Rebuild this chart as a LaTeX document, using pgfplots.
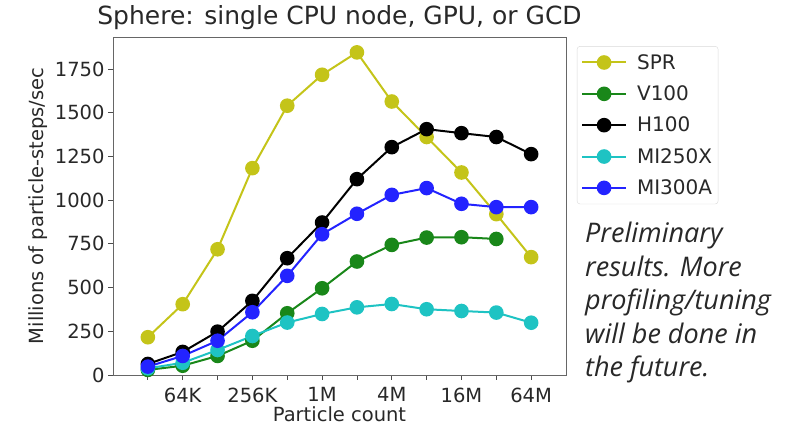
\documentclass[border=0pt]{standalone}
\usepackage{fontspec}
\setmainfont{DejaVu Sans}
\newfontfamily\notefont{Open Sans}
\usepackage{pgfplots}
\pgfplotsset{compat=1.18}
\definecolor{cSPR}{RGB}{196,196,25}
\definecolor{cV100}{RGB}{25,135,25}
\definecolor{cH100}{RGB}{0,0,0}
\definecolor{cMI250}{RGB}{30,195,195}
\definecolor{cMI300}{RGB}{35,35,255}
\definecolor{txt}{RGB}{40,40,40}
\begin{document}
\begin{tikzpicture}
\path[use as bounding box] (0pt,0pt) rectangle (805pt,427pt);
\begin{axis}[
  at={(113pt,52pt)}, anchor=south west,
  scale only axis, width=453pt, height=338pt,
  xmode=log, log basis x={2},
  xmin=16384, xmax=134217728,
  ymin=0, ymax=1933,
  xtick={32768,65536,131072,262144,524288,1048576,2097152,4194304,8388608,16777216,33554432,67108864},
  xticklabels={,64K,,256K,,1M,,4M,,16M,,64M},
  ytick={0,250,500,750,1000,1250,1500,1750},
  tick align=outside, tick pos=left,
  major tick length=5pt,
  axis line style={draw=black!60},
  every tick/.style={black!70, line width=0.8pt},
  tick label style={font=\fontsize{19.5}{21}\selectfont, text=txt},
  xticklabel style={yshift=-4pt},
  /pgf/number format/assume math mode=true,
  /pgf/number format/1000 sep={},
  xlabel={Particle count}, ylabel={Millions of particle-steps/sec},
  label style={font=\fontsize{19.5}{21}\selectfont, text=txt},
  xlabel style={at={(axis description cs:0.5,0)}, anchor=base, yshift=-47pt, inner sep=0pt},
  title={Sphere: single CPU node, GPU, or GCD},
  title style={font=\fontsize{25}{27}\selectfont, text=txt, at={(axis description cs:0.5,1)}, anchor=base, yshift=6pt},
  every axis plot/.append style={line width=2pt, mark=*, mark size=6.3pt},
  legend style={at={(1.024,0.973)}, anchor=north west, draw=black!15, rounded corners=3pt,
    font=\fontsize{20}{22}\selectfont, text=txt, row sep=11pt, inner xsep=4pt, inner ysep=6pt,
    /tikz/every odd column/.style={column sep=8pt}},
  legend cell align=left,
  legend image code/.code={\draw[mark repeat=2,mark phase=2,#1] plot coordinates {(0pt,0pt) (22pt,0pt) (44pt,0pt)};},
]
\addplot[cSPR, mark options={fill=cSPR}] coordinates {
(32768,216) (65536,405) (131072,719) (262144,1183) (524288,1540) (1048576,1717)
(2097152,1845) (4194304,1564) (8388608,1361) (16777216,1158) (33554432,920) (67108864,674)};
\addplot[cV100, mark options={fill=cV100}] coordinates {
(32768,29) (65536,53) (131072,109) (262144,196) (524288,353) (1048576,496)
(2097152,649) (4194304,744) (8388608,786) (16777216,788) (33554432,778)};
\addplot[cH100, mark options={fill=cH100}] coordinates {
(32768,63) (65536,132) (131072,248) (262144,424) (524288,668) (1048576,872)
(2097152,1120) (4194304,1303) (8388608,1406) (16777216,1383) (33554432,1361) (67108864,1263)};
\addplot[cMI250, mark options={fill=cMI250}] coordinates {
(32768,38) (65536,70) (131072,143) (262144,223) (524288,300) (1048576,349)
(2097152,387) (4194304,406) (8388608,376) (16777216,366) (33554432,357) (67108864,299)};
\addplot[cMI300, mark options={fill=cMI300}] coordinates {
(32768,48) (65536,109) (131072,196) (262144,359) (524288,567) (1048576,805)
(2097152,922) (4194304,1030) (8388608,1069) (16777216,979) (33554432,960) (67108864,960)};
\legend{SPR,V100,H100,MI250X,MI300A}
\end{axis}
\begin{scope}[every node/.style={anchor=base west, inner sep=0pt, text=txt,
    font=\notefont\itshape\fontsize{27}{33}\selectfont}]
\node at (585pt,184pt) {Preliminary};
\node at (585pt,150.5pt) {results. More};
\node at (585pt,117pt) {profiling/tuning};
\node at (585pt,83.5pt) {will be done in};
\node at (585pt,50pt) {the future.};
\end{scope}
\end{tikzpicture}
\end{document}
